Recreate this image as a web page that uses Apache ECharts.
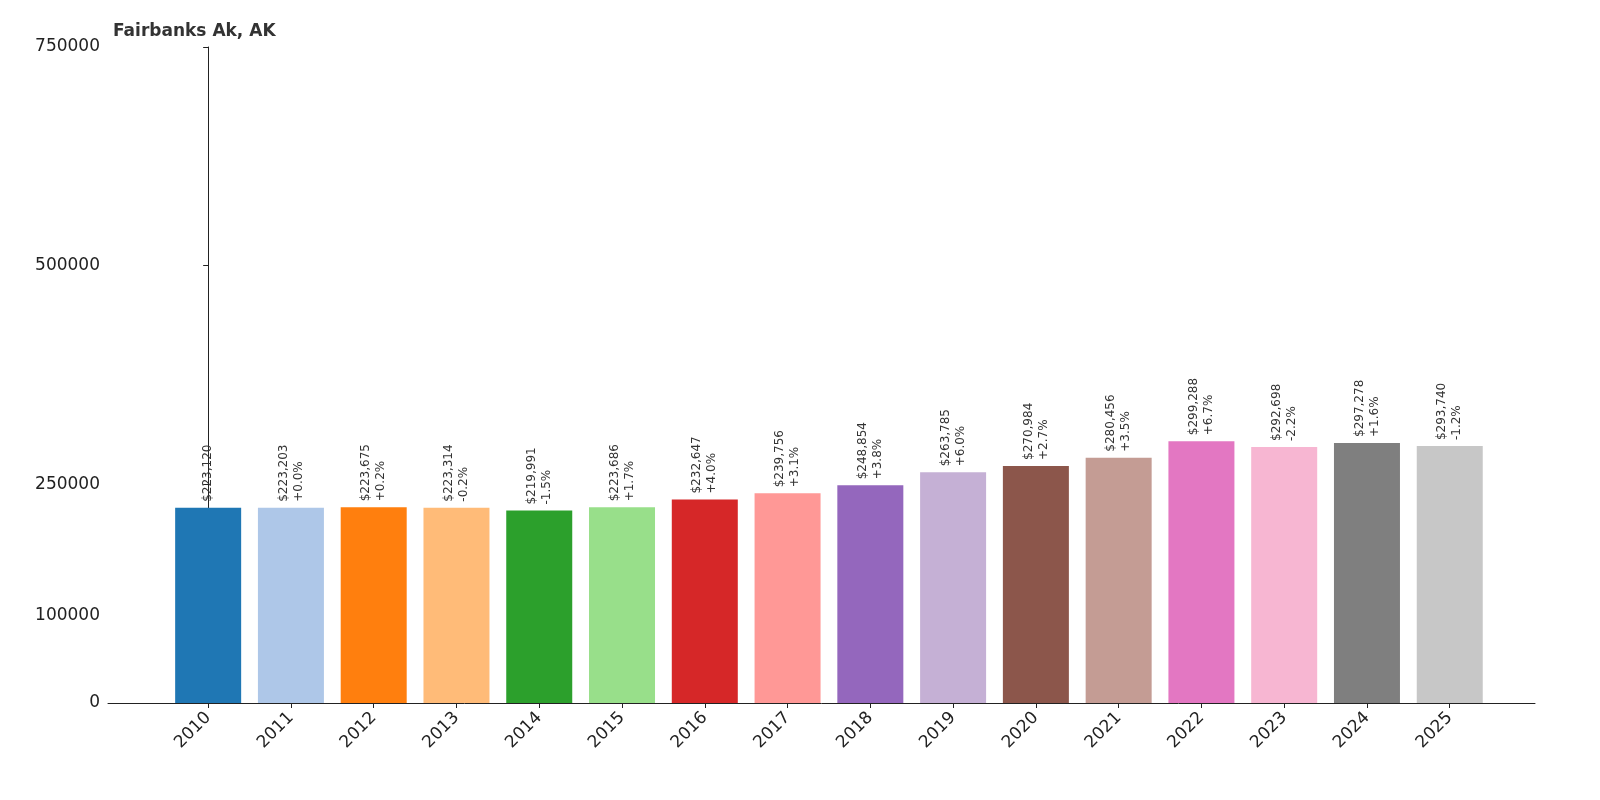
<!DOCTYPE html>
<html><head><meta charset="utf-8">
<script src="https://cdn.jsdelivr.net/npm/echarts@6/dist/echarts.min.js"></script>
<style>html,body{margin:0;padding:0;background:#fff}#c{width:1600px;height:800px}</style>
</head><body><div id="c"></div>
<script>
var years = ['2010','2011','2012','2013','2014','2015','2016','2017','2018','2019','2020','2021','2022','2023','2024','2025'];
var values = [223120,223203,223675,223314,219991,223686,232647,239756,248854,263785,270984,280456,299288,292698,297278,293740];
var changes = ['','+0.0%','+0.2%','-0.2%','-1.5%','+1.7%','+4.0%','+3.1%','+3.8%','+6.0%','+2.7%','+3.5%','+6.7%','-2.2%','+1.6%','-1.2%'];
var yTicks = [0,100000,250000,500000,750000];
var colors = ['#1f77b4','#aec7e8','#ff7f0e','#ffbb78','#2ca02c','#98df8a','#d62728','#ff9896','#9467bd','#c5b0d5','#8c564b','#c49c94','#e377c2','#f7b6d2','#7f7f7f','#c7c7c7'];
var xIdx = years.map(function (y, i) { return i; });

var chart = echarts.init(document.getElementById('c'));
chart.setOption({
    animation: false,
    title: {
        text: 'Fairbanks Ak, AK', left: 108, top: 18,
        textStyle: {fontFamily: 'DejaVu Sans', fontSize: 17, fontWeight: 'bold', color: '#333'}
    },
    grid: {left: 108, right: 65, top: 47, bottom: 97},
    xAxis: {
        type: 'value', min: -1.21, max: 16.03,
        splitLine: {show: false},
        axisLine: {lineStyle: {color: '#222'}},
        axisTick: {customValues: xIdx, lineStyle: {color: '#222'}},
        axisLabel: {
            customValues: xIdx, rotate: 45, fontFamily: 'DejaVu Sans', fontSize: 17, color: '#222', margin: 12,
            formatter: function (v) { return years[Math.round(v)]; }
        }
    },
    yAxis: {
        type: 'value', min: 0, max: 750000, interval: 50000,
        splitLine: {show: false},
        axisLine: {show: true, lineStyle: {color: '#222'}},
        axisTick: {show: true, customValues: yTicks, lineStyle: {color: '#222'}},
        axisLabel: {customValues: yTicks, fontFamily: 'DejaVu Sans', fontSize: 17, color: '#222',
            formatter: function (v) { return String(v); }}
    },
    series: [{
        type: 'bar', barWidth: 66,
        data: values.map(function (v, i) { return {value: [i, v], itemStyle: {color: colors[i]}}; }),
        label: {
            show: true, position: 'top', rotate: 90, distance: 6, align: 'left', verticalAlign: 'middle',
            fontFamily: 'DejaVu Sans', fontSize: 12, color: '#333', lineHeight: 15,
            formatter: function (p) {
                var s = '$' + p.value[1].toLocaleString('en-US');
                return changes[p.dataIndex] ? s + '\n' + changes[p.dataIndex] : s;
            }
        }
    }]
});
</script></body></html>
